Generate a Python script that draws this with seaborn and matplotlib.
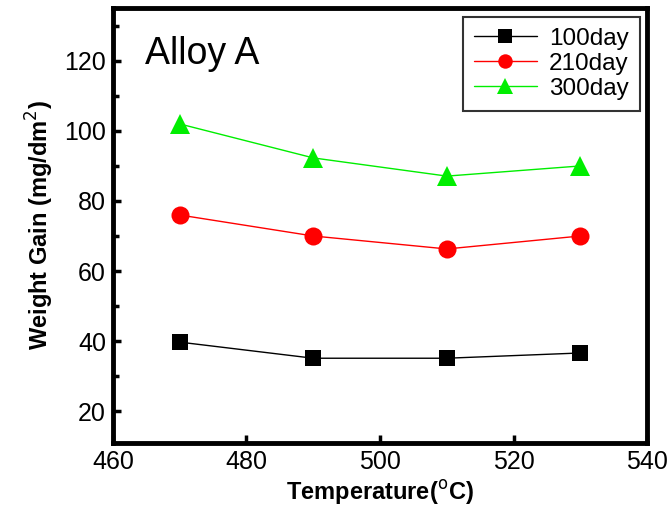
import pandas as pd
import matplotlib
matplotlib.use("Agg")
import matplotlib.pyplot as plt
import seaborn as sns
from matplotlib.ticker import MultipleLocator

# Data
temperature = [470, 490, 510, 530]
gain_100day = [39.7, 35.1, 35.1, 36.6]
gain_210day = [76.0, 70.0, 66.3, 70.0]
gain_300day = [102.0, 92.3, 87.1, 90.0]
series_names = ['100day', '210day', '300day']

df = pd.DataFrame({
    'Temperature': temperature * 3,
    'Gain': gain_100day + gain_210day + gain_300day,
    'Series': [s for s in series_names for _ in temperature],
})

sns.set_theme(style='white')
plt.rcParams['font.family'] = ['Liberation Sans', 'DejaVu Sans']
plt.rcParams['text.color'] = 'black'
plt.rcParams['axes.labelcolor'] = 'black'
plt.rcParams['xtick.color'] = 'black'
plt.rcParams['ytick.color'] = 'black'

fig = plt.figure(figsize=(6.72, 5.16), dpi=100)
ax = fig.add_axes([0.168, 0.1415, 0.795, 0.843])

palette = {'100day': '#000000', '210day': '#ff0000', '300day': '#00ee00'}
markers = {'100day': 's', '210day': 'o', '300day': '^'}
sizes = {'100day': 12, '210day': 13, '300day': 14}

for name in series_names:
    sub = df[df['Series'] == name]
    sns.lineplot(data=sub, x='Temperature', y='Gain', ax=ax,
                 color=palette[name], marker=markers[name],
                 markersize=sizes[name], markeredgewidth=0,
                 linewidth=1.0, label=name)

ax.set_xlim(460, 540)
ax.set_ylim(10.9, 135.1)
ax.xaxis.set_major_locator(MultipleLocator(20))
ax.yaxis.set_minor_locator(MultipleLocator(10))
ax.set_yticks([20, 40, 60, 80, 100, 120])

ax.tick_params(axis='both', which='both', direction='in', labelsize=18,
               width=2.5, bottom=True, left=True, top=False, right=False)
ax.tick_params(axis='both', which='major', length=6, pad=5)
ax.tick_params(axis='y', which='minor', length=4)
for spine in ax.spines.values():
    spine.set_linewidth(3.5)
    spine.set_color('black')

ax.set_xlabel('Temperature($^{\\rm o}$C)', fontsize=17, fontweight='bold', labelpad=3)
ax.set_ylabel('Weight Gain (mg/dm$^{\\rm 2}$)', fontsize=17, fontweight='bold', labelpad=6)

ax.text(0.06, 0.935, 'Alloy A', transform=ax.transAxes, fontsize=27,
        ha='left', va='top')

leg = ax.legend(loc='upper right', fontsize=17.5, frameon=True, fancybox=False,
                edgecolor='black', borderpad=0.45, handlelength=2.6,
                handletextpad=0.5, labelspacing=0.12, markerscale=0.8,
                borderaxespad=0, bbox_to_anchor=(0.9865, 0.9795))
leg.get_frame().set_linewidth(1.5)

fig.savefig('out.png', dpi=100)
